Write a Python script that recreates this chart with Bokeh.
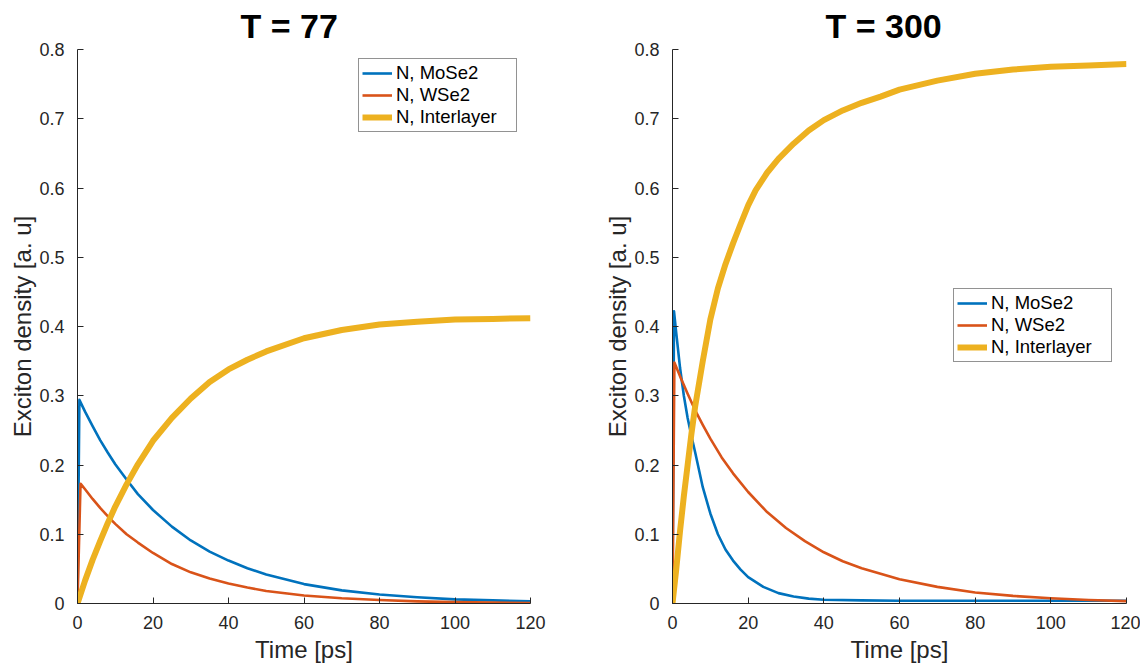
from bokeh.plotting import figure
from bokeh.models import Range1d, FixedTicker, Legend, LegendItem
from bokeh.layouts import row
from bokeh.embed import file_html
from bokeh.resources import INLINE

# ---------------- data ----------------
titles = ["T = 77", "T = 300"]
series_names = ["N, MoSe2", "N, WSe2", "N, Interlayer"]
x_label = "Time [ps]"
y_label = "Exciton density [a. u]"
x_ticks = [0, 20, 40, 60, 80, 100, 120]
y_ticks = [0, 0.1, 0.2, 0.3, 0.4, 0.5, 0.6, 0.7, 0.8]

# T = 77
time_77_mose2 = [0, 0.5, 2, 4, 6, 8, 10, 13, 16, 20, 25, 30, 35, 40, 45, 50, 60, 70, 80, 90, 100, 110, 120]
mose2_77 = [0, 0.294, 0.277, 0.256, 0.236, 0.218, 0.201, 0.179, 0.158, 0.135, 0.111, 0.091, 0.075, 0.062,
            0.051, 0.042, 0.028, 0.019, 0.013, 0.009, 0.006, 0.0045, 0.003]
time_77_wse2 = [0, 0.8, 2, 4, 6, 8, 10, 13, 16, 20, 25, 30, 35, 40, 45, 50, 60, 70, 80, 90, 100, 110, 120]
wse2_77 = [0, 0.173, 0.165, 0.151, 0.138, 0.126, 0.115, 0.100, 0.088, 0.073, 0.057, 0.045, 0.036, 0.029,
           0.023, 0.018, 0.0115, 0.0075, 0.005, 0.003, 0.002, 0.0012, 0.0008]
time_77_inter = [0, 2, 4, 6, 8, 10, 13, 16, 20, 25, 30, 35, 40, 45, 50, 60, 70, 80, 90, 100, 110, 120]
inter_77 = [0, 0.033, 0.063, 0.090, 0.116, 0.140, 0.172, 0.201, 0.235, 0.268, 0.296, 0.320, 0.338, 0.352,
            0.364, 0.383, 0.395, 0.403, 0.407, 0.410, 0.411, 0.412]

# T = 300
time_300_mose2 = [0, 0.4, 1, 2, 3, 4, 5, 6, 8, 10, 12, 14, 16, 18, 20, 24, 28, 32, 36, 40, 50, 60, 80, 100, 120]
mose2_300 = [0, 0.422, 0.390, 0.340, 0.300, 0.268, 0.242, 0.218, 0.168, 0.130, 0.100, 0.078, 0.062, 0.049,
             0.038, 0.024, 0.015, 0.010, 0.007, 0.0055, 0.0045, 0.004, 0.004, 0.004, 0.004]
time_300_wse2 = [0, 0.5, 2, 4, 6, 8, 10, 13, 16, 20, 25, 30, 35, 40, 45, 50, 60, 70, 80, 90, 100, 110, 120]
wse2_300 = [0, 0.348, 0.328, 0.303, 0.279, 0.258, 0.238, 0.211, 0.188, 0.161, 0.132, 0.109, 0.090, 0.074,
            0.061, 0.051, 0.035, 0.024, 0.016, 0.011, 0.0075, 0.005, 0.0035]
time_300_inter = [0, 1, 2, 3, 4, 5, 6, 8, 10, 12, 14, 16, 18, 20, 22, 25, 28, 32, 36, 40, 45, 50, 55, 60,
                  70, 80, 90, 100, 110, 120]
inter_300 = [0, 0.050, 0.105, 0.155, 0.200, 0.245, 0.285, 0.350, 0.410, 0.455, 0.490, 0.520, 0.548, 0.575,
             0.597, 0.622, 0.642, 0.664, 0.683, 0.698, 0.712, 0.723, 0.732, 0.742, 0.755, 0.765, 0.771,
             0.775, 0.777, 0.779]

colors = ["#0072BD", "#D95319", "#EDB120"]
widths = [2.6, 2.6, 6]
FONT = "Liberation Sans"
AX = "#262626"


def make_panel(title, series, width, border_left, border_right, legend_loc, title_offset):
    p = figure(width=width, height=668, output_backend="svg", toolbar_location=None,
               x_range=Range1d(0, 120), y_range=Range1d(0, 0.8),
               min_border_left=border_left, min_border_right=border_right,
               min_border_top=48, min_border_bottom=65)
    p.outline_line_color = None
    p.grid.visible = False
    p.background_fill_color = "white"
    p.border_fill_color = "white"

    p.title.text = title
    p.title.text_font = FONT
    p.title.text_font_size = "34px"
    p.title.text_font_style = "bold"
    p.title.text_color = "black"
    p.title.align = "left"
    p.title.offset = title_offset
    p.title.standoff = 9

    for ax in (p.xaxis[0], p.yaxis[0]):
        ax.axis_line_color = AX
        ax.major_tick_line_color = AX
        ax.major_tick_in = 6
        ax.major_tick_out = 0
        ax.minor_tick_line_color = None
        ax.major_label_text_font = FONT
        ax.major_label_text_font_size = "18px"
        ax.major_label_text_color = AX
        ax.axis_label_text_font = FONT
        ax.axis_label_text_font_size = "24px"
        ax.axis_label_text_font_style = "normal"
        ax.axis_label_text_color = AX

    p.xaxis.ticker = FixedTicker(ticks=x_ticks)
    p.yaxis.ticker = FixedTicker(ticks=y_ticks)
    p.yaxis.major_label_overrides = {0: "0"}
    p.xaxis.axis_label = x_label
    p.yaxis.axis_label = y_label
    p.xaxis.major_label_standoff = 12
    p.xaxis.axis_label_standoff = 4
    p.yaxis.major_label_standoff = 13
    p.yaxis.axis_label_standoff = 0

    items = []
    for (xs, ys), name, c, w in zip(series, series_names, colors, widths):
        r = p.line(xs, ys, line_color=c, line_width=w, line_join="round")
        items.append(LegendItem(label=name, renderers=[r]))

    leg = Legend(items=items, location=legend_loc,
                 border_line_color=AX, border_line_width=1, background_fill_color="white",
                 background_fill_alpha=1.0, padding=3, spacing=0, margin=0,
                 glyph_width=30, glyph_height=22, label_height=22, label_width=117, label_standoff=4,
                 label_text_font=FONT, label_text_font_size="18.5px", label_text_color="black")
    p.add_layout(leg, "center")
    return p


p1 = make_panel(titles[0],
                [(time_77_mose2, mose2_77), (time_77_wse2, wse2_77), (time_77_inter, inter_77)],
                width=595, border_left=77, border_right=65, legend_loc=(281, 471), title_offset=163)
p2 = make_panel(titles[1],
                [(time_300_mose2, mose2_300), (time_300_wse2, wse2_300), (time_300_inter, inter_300)],
                width=545, border_left=77, border_right=14, legend_loc=(281, 241), title_offset=153)

layout = row(p1, p2)
open("out.html", "w").write(file_html(layout, INLINE))
